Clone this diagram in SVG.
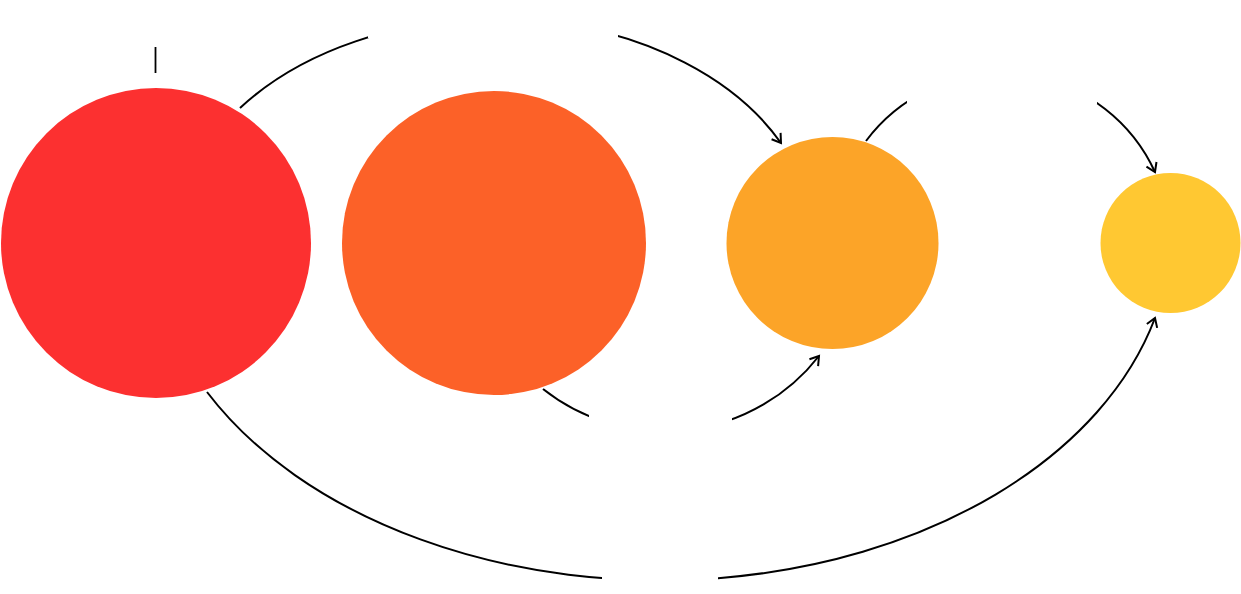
<svg xmlns="http://www.w3.org/2000/svg" width="1241" height="594" viewBox="0 0 1241 594">
<style>
.link{fill:none;stroke:#000;stroke-width:2}
.gap{fill:#fff;stroke:none}
.tick{stroke:#000;stroke-width:1.8}
</style>
<defs>
<marker id="arr" viewBox="0 0 14 14" refX="11" refY="7" markerWidth="14" markerHeight="14" markerUnits="userSpaceOnUse" orient="auto">
<path d="M2.5,1.5 L11,7 L2.5,12.5" fill="none" stroke="#000" stroke-width="2"/>
</marker>
</defs>
<rect width="1241" height="594" fill="#fff"/>
<g id="connectors">
<path class="link" d="M240,108 A319,223 0 0 1 781,143" marker-end="url(#arr)"/>
<path class="link" d="M866,141 A169,169 0 0 1 1155,172" marker-end="url(#arr)"/>
<path class="link" d="M543,389 A196,196 0 0 0 819,356" marker-end="url(#arr)"/>
<path class="link" d="M207,392 A511,350 0 0 0 1155,318" marker-end="url(#arr)"/>
<rect class="gap" x="368" y="0" width="250" height="38"/>
<rect class="gap" x="907" y="60" width="190" height="44"/>
<rect class="gap" x="589" y="414.5" width="143" height="26"/>
<rect class="gap" x="602" y="570" width="116" height="24"/>
<line class="tick" x1="155.5" y1="47" x2="155.5" y2="73"/>
</g>
<g id="node1"><circle cx="156" cy="243" r="155" fill="#FC3030"/></g>
<g id="node2"><circle cx="494" cy="243" r="152" fill="#FC6128"/></g>
<g id="node3"><circle cx="832.5" cy="243" r="106" fill="#FCA428"/></g>
<g id="node4"><circle cx="1170.5" cy="243" r="70" fill="#FFC832"/></g>
</svg>
